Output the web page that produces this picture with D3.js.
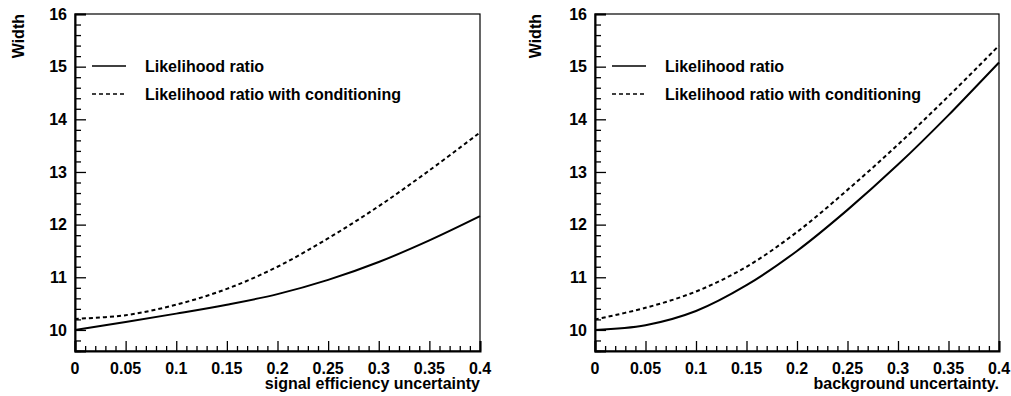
<!DOCTYPE html>
<html>
<head>
<meta charset="utf-8">
<script src="https://cdn.jsdelivr.net/npm/d3@7"></script>
<style>
    html, body { margin: 0; padding: 0; background: #fff; }
    svg text { font-family: "Liberation Sans", Arial, Helvetica, sans-serif; font-weight: bold; fill: #000; }
</style>
</head>
<body>
<svg id="chart" width="1011" height="396"></svg>
<script>
// x positions shared by both panels
const uncertainty = [0, 0.05, 0.1, 0.15, 0.2, 0.25, 0.3, 0.35, 0.4];

// left panel: signal efficiency uncertainty
const signalLikelihood = [10.0, 10.15, 10.31, 10.48, 10.68, 10.95, 11.29, 11.7, 12.16];
const signalConditioned = [10.21, 10.28, 10.48, 10.78, 11.2, 11.74, 12.35, 13.03, 13.75];

// right panel: background uncertainty
const backgroundLikelihood = [10.0, 10.09, 10.36, 10.85, 11.5, 12.28, 13.14, 14.08, 15.08];
const backgroundConditioned = [10.2, 10.42, 10.73, 11.2, 11.86, 12.66, 13.52, 14.44, 15.4];

// axis ticks
const xMajorTicks = [0, 0.05, 0.1, 0.15, 0.2, 0.25, 0.3, 0.35, 0.4];
const yMajorTicks = [10, 11, 12, 13, 14, 15, 16];
const legendLabels = ["Likelihood ratio", "Likelihood ratio with conditioning"];

const svg = d3.select("#chart");

const panels = [
    { left: 75, right: 480, title: "signal efficiency uncertainty", yLabelX: 18,
      series: [signalLikelihood, signalConditioned] },
    { left: 595, right: 999, title: "background uncertainty.", yLabelX: 535,
      series: [backgroundLikelihood, backgroundConditioned] }
];
const plotTop = 14, plotBottom = 351;

// minor tick values
const xMinor = d3.range(0, 41).map((i) => i / 100).filter((v, i) => i % 5 != 0);
const yMinor = d3.range(48, 81).map((i) => i / 5).filter((v) => Math.abs(v - Math.round(v)) > 1e-6);

panels.forEach((p) => {
    const x = d3.scaleLinear().domain([0, 0.4]).range([p.left, p.right]);
    const y = d3.scaleLinear().domain([9.6, 16]).range([plotBottom, plotTop]);
    const g = svg.append("g");

    // frame
    g.append("rect")
        .attr("x", p.left)
        .attr("y", plotTop)
        .attr("width", p.right - p.left)
        .attr("height", plotBottom - plotTop)
        .style("fill", "none")
        .style("stroke", "#000")
        .style("stroke-width", 1.2);

    // x axis, ticks pointing inward
    const gx = g.append("g").attr("transform", "translate(0," + plotBottom + ")");
    gx.call(d3.axisTop(x).tickValues(xMinor).tickSize(5).tickFormat(""));
    gx.select(".domain").remove();
    const gx2 = g.append("g").attr("transform", "translate(0," + plotBottom + ")");
    gx2.call(d3.axisTop(x).tickValues(xMajorTicks).tickSize(10).tickFormat(""));
    gx2.select(".domain").style("stroke-width", 2);

    // x tick labels
    g.selectAll(".xlabel")
        .data(xMajorTicks)
        .enter()
        .append("text")
        .attr("x", (d) => x(d))
        .attr("y", 374)
        .attr("text-anchor", "middle")
        .style("font-size", "16px")
        .text((d) => d3.format("")(d));

    // y axis, ticks pointing inward
    const gy = g.append("g").attr("transform", "translate(" + p.left + ",0)");
    gy.call(d3.axisRight(y).tickValues(yMinor).tickSize(6).tickFormat(""));
    gy.select(".domain").remove();
    const gy2 = g.append("g").attr("transform", "translate(" + p.left + ",0)");
    gy2.call(d3.axisRight(y).tickValues(yMajorTicks).tickSize(11).tickFormat(""));
    gy2.select(".domain").style("stroke-width", 2);
    g.selectAll("g.tick line").style("stroke-width", 1.3);

    // y tick labels
    g.selectAll(".ylabel")
        .data(yMajorTicks)
        .enter()
        .append("text")
        .attr("x", p.left - 8)
        .attr("y", (d) => y(d))
        .attr("dy", "0.36em")
        .attr("text-anchor", "end")
        .style("font-size", "16px")
        .text((d) => d);

    // axis titles
    g.append("text")
        .attr("x", p.right)
        .attr("y", 389)
        .attr("text-anchor", "end")
        .style("font-size", "16px")
        .text(p.title);

    g.append("text")
        .attr("transform", "translate(" + p.yLabelX + "," + plotTop + ")rotate(-90)")
        .attr("dy", "0.36em")
        .attr("text-anchor", "end")
        .style("font-size", "16px")
        .text("Width");

    // curves
    const line = d3
        .line()
        .x((d, i) => x(uncertainty[i]))
        .y((d) => y(d))
        .curve(d3.curveCatmullRom.alpha(0.5));

    p.series.forEach((values, k) => {
        g.append("path")
            .datum(values)
            .attr("d", line)
            .style("fill", "none")
            .style("stroke", "#000")
            .style("stroke-width", 2)
            .style("stroke-dasharray", k == 1 ? "4,3" : null);
    });

    // legend
    legendLabels.forEach((label, k) => {
        const ly = plotTop + 52 + k * 28;
        g.append("line")
            .attr("x1", p.left + 17)
            .attr("x2", p.left + 51)
            .attr("y1", ly)
            .attr("y2", ly)
            .style("stroke", "#000")
            .style("stroke-width", 1.6)
            .style("stroke-dasharray", k == 1 ? "4,3" : null);
        g.append("text")
            .attr("x", p.left + 70)
            .attr("y", ly)
            .attr("dy", "0.36em")
            .style("font-size", "16px")
            .text(label);
    });
});
</script>
</body>
</html>
